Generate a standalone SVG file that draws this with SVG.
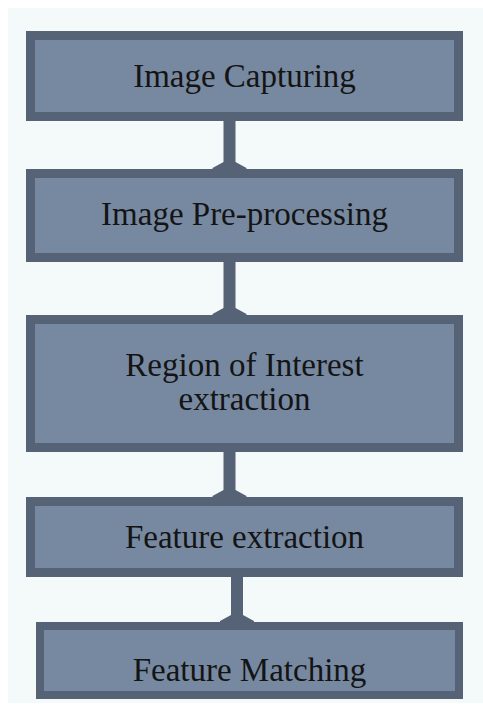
<svg xmlns="http://www.w3.org/2000/svg" width="483" height="704" viewBox="0 0 483 704">
  <style>
    .box { fill: #7789a1; stroke: #566377; stroke-width: 9; }
    .label { font-family: "Liberation Serif", "Times New Roman", serif; font-size: 33px; fill: #141414; text-anchor: middle; }
    .link { stroke: #566377; stroke-width: 12; fill: none; marker-end: url(#head); }
  </style>
  <defs>
    <!-- flared arrow tip where a connector meets the next box -->
    <marker id="head" markerUnits="userSpaceOnUse" orient="auto" refX="0" refY="0"
            viewBox="-10 -20 12 40" markerWidth="12" markerHeight="40" overflow="visible">
      <path d="M -7,-6 L -1,-17 L 1,-17 L 1,17 L -1,17 L -7,6 Z" fill="#566377"/>
    </marker>
  </defs>

  <!-- page background -->
  <rect x="0" y="0" width="483" height="704" fill="#ffffff"/>
  <rect x="8" y="8" width="475" height="695" fill="#f4f9fa"/>

  <g id="connectors">
    <line class="link" x1="229.5" y1="121" x2="229.5" y2="169"/>
    <line class="link" x1="229.5" y1="262" x2="229.5" y2="315"/>
    <line class="link" x1="229.5" y1="452" x2="229.5" y2="497"/>
    <line class="link" x1="237" y1="577" x2="237" y2="622"/>
  </g>

  <g id="image-capturing">
    <rect class="box" x="30.5" y="35.5" width="428" height="81"/>
    <text class="label" x="244.5" y="87">Image Capturing</text>
  </g>

  <g id="image-preprocessing">
    <rect class="box" x="30.5" y="173.5" width="428" height="84"/>
    <text class="label" x="244.5" y="225">Image Pre-processing</text>
  </g>

  <g id="roi-extraction">
    <rect class="box" x="30.5" y="319.5" width="428" height="128"/>
    <text class="label" x="244.5" y="376">Region of Interest</text>
    <text class="label" x="244.5" y="410">extraction</text>
  </g>

  <g id="feature-extraction">
    <rect class="box" x="30.5" y="501.5" width="428" height="71"/>
    <text class="label" x="244.5" y="548">Feature extraction</text>
  </g>

  <g id="feature-matching">
    <rect class="box" x="40" y="626" width="419" height="69" style="stroke-width:8"/>
    <text class="label" x="249.5" y="681">Feature Matching</text>
  </g>
</svg>
